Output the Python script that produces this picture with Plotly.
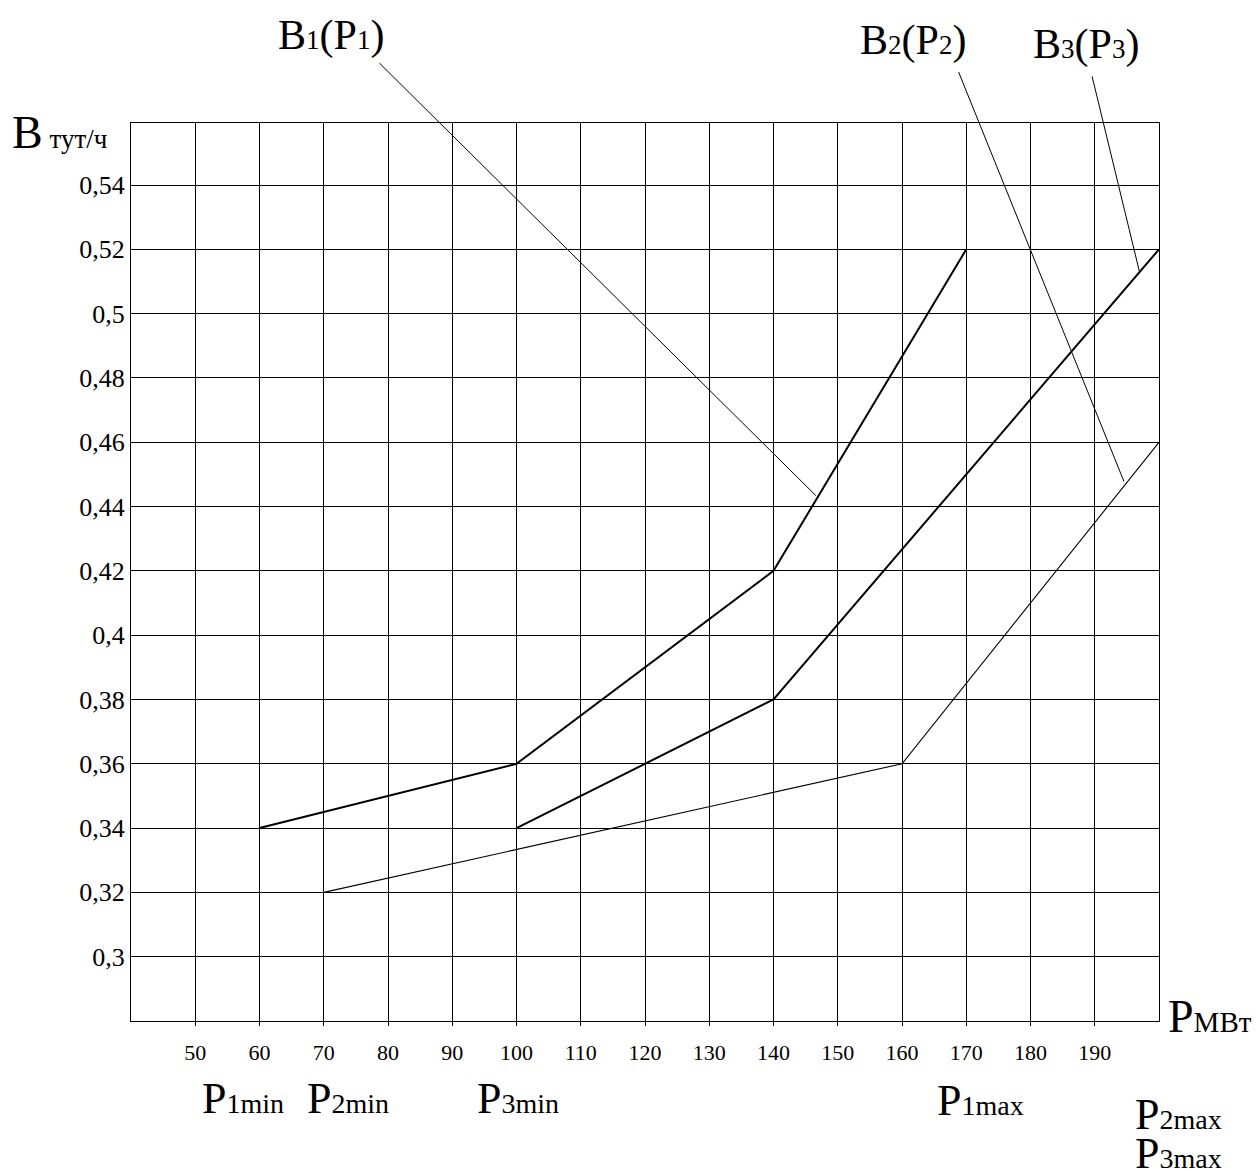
import plotly.graph_objects as go

# ---- data ----
p1 = [60, 100, 140, 170]
b1 = [0.34, 0.36, 0.42, 0.52]
p2 = [100, 140, 200]
b2 = [0.34, 0.38, 0.52]
p3 = [70, 160, 200]
b3 = [0.32, 0.36, 0.46]

x_ticks = [50, 60, 70, 80, 90, 100, 110, 120, 130, 140, 150, 160, 170, 180, 190]
y_ticks = [0.30, 0.32, 0.34, 0.36, 0.38, 0.40, 0.42, 0.44, 0.46, 0.48, 0.50, 0.52, 0.54]
y_ticktext = ["0,3", "0,32", "0,34", "0,36", "0,38", "0,4", "0,42", "0,44",
              "0,46", "0,48", "0,5", "0,52", "0,54"]

# leader-line anchor points (P, B) and label texts
leader_tips = [(146.6, 0.4434), (194.55, 0.4478), (197.0, 0.5127)]
leader_labels = ["B<span style='font-size:27px'>1</span>(P<span style='font-size:27px'>1</span>)",
                 "B<span style='font-size:27px'>2</span>(P<span style='font-size:27px'>2</span>)",
                 "B<span style='font-size:27px'>3</span>(P<span style='font-size:27px'>3</span>)"]

W, H = 1259, 1169
PL, PR, PT, PB = 131, 1159, 123, 1021  # plot box in page pixels
L, R, T, B = PL, W - PR, PT, H - PB
FONT = "Liberation Serif"


def px_x(px):
    return (px - PL) / (PR - PL)


def px_y(py):
    return (PB - py) / (PB - PT)


fig = go.Figure()
fig.add_trace(go.Scatter(x=p1, y=b1, mode="lines", line=dict(color="black", width=2),
                         showlegend=False, hoverinfo="skip"))
fig.add_trace(go.Scatter(x=p2, y=b2, mode="lines", line=dict(color="black", width=2),
                         showlegend=False, hoverinfo="skip"))
fig.add_trace(go.Scatter(x=p3, y=b3, mode="lines", line=dict(color="black", width=1.1),
                         showlegend=False, hoverinfo="skip"))

annotations = []
# leader lines
offsets = [(-438, -434), (-166, -411), (-48, -198)]
for (tx, ty), (ax, ay) in zip(leader_tips, offsets):
    annotations.append(dict(x=tx, y=ty, xref="x", yref="y", text="", showarrow=True,
                            arrowhead=0, arrowwidth=1, arrowcolor="black",
                            ax=ax, ay=ay, standoff=0, startstandoff=0))

# top labels
top_pos = [(331, 36), (913, 40), (1086, 44)]
for (cx, cy), txt in zip(top_pos, leader_labels):
    annotations.append(dict(x=px_x(cx), y=px_y(cy), xref="paper", yref="paper",
                            text=txt, showarrow=False, xanchor="center", yanchor="middle",
                            font=dict(family=FONT, size=42, color="black")))

# axis titles
annotations.append(dict(x=px_x(10), y=px_y(132), xref="paper", yref="paper",
                        text="B<span style='font-size:27px'> тут/ч</span>", showarrow=False,
                        xanchor="left", yanchor="middle",
                        font=dict(family=FONT, size=46, color="black")))
annotations.append(dict(x=px_x(1166), y=px_y(1016), xref="paper", yref="paper",
                        text="P<span style='font-size:29px'>МВт</span>", showarrow=False,
                        xanchor="left", yanchor="middle",
                        font=dict(family=FONT, size=46, color="black")))

# bottom P labels
bottom_labels = [
    ("P<span style='font-size:28px'>1min</span>", 200, 1098),
    ("P<span style='font-size:28px'>2min</span>", 305, 1098),
    ("P<span style='font-size:28px'>3min</span>", 475, 1098),
    ("P<span style='font-size:28px'>1max</span>", 935, 1100),
    ("P<span style='font-size:28px'>2max</span>", 1133, 1114),
    ("P<span style='font-size:28px'>3max</span>", 1133, 1153),
]
for txt, lx, cy in bottom_labels:
    annotations.append(dict(x=px_x(lx), y=px_y(cy), xref="paper", yref="paper",
                            text=txt, showarrow=False, xanchor="left", yanchor="middle",
                            font=dict(family=FONT, size=44, color="black")))

fig.update_layout(
    width=W, height=H,
    margin=dict(l=L, r=R, t=T, b=B, pad=0),
    paper_bgcolor="white", plot_bgcolor="white",
    font=dict(family=FONT, color="black"),
    annotations=annotations,
    xaxis=dict(range=[40, 200], tickmode="array", tickvals=x_ticks,
               ticktext=[str(v) for v in x_ticks],
               showgrid=True, gridcolor="black", gridwidth=1,
               showline=True, linecolor="black", linewidth=1, mirror=True,
               ticks="outside", ticklen=4, tickcolor="black", tickwidth=1,
               ticklabelstandoff=8,
               tickfont=dict(family=FONT, size=22, color="black"),
               zeroline=False, fixedrange=True),
    yaxis=dict(range=[0.28, 0.5593], tickmode="array", tickvals=y_ticks,
               ticktext=y_ticktext,
               showgrid=True, gridcolor="black", gridwidth=1,
               showline=True, linecolor="black", linewidth=1, mirror=True,
               ticks="", ticklabelstandoff=0,
               tickfont=dict(family=FONT, size=26, color="black"),
               zeroline=False, fixedrange=True),
)

fig.write_html("out.html", config={"displayModeBar": False},
               post_script="document.body.style.margin='0';document.body.style.overflow='hidden';")
